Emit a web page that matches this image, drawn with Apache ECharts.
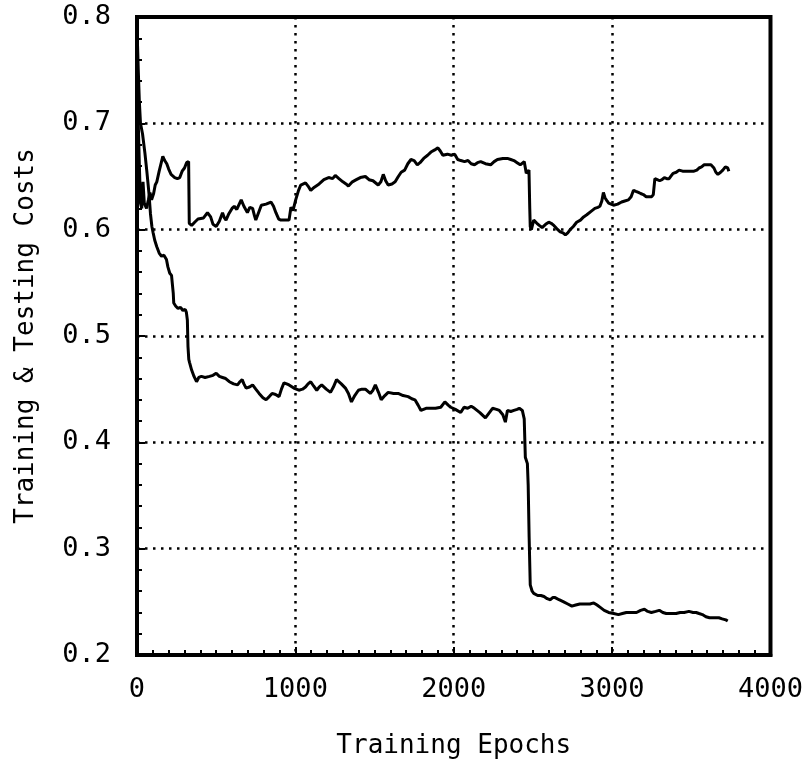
<!DOCTYPE html>
<html>
<head>
<meta charset="utf-8">
<script src="https://cdn.jsdelivr.net/npm/echarts@6/dist/echarts.min.js"></script>
<style>html,body{margin:0;padding:0;background:#fff}#chart{width:806px;height:766px}</style>
</head>
<body>
<div id="chart"></div>
<script>
// Testing cost (upper curve)
var testEpochs = [0,8,15,22,30,38,46,60,72,82,92,105,115,125,140,163,175,188,200,215,238,255,270,285,300,313,326,330,345,364,385,420,445,465,480,500,520,540,552,562,580,600,614,630,658,675,697,712,730,742,750,765,785,815,846,862,877,895,909,930,960,972,985,1002,1020,1034,1064,1080,1097,1120,1150,1180,1210,1235,1252,1275,1300,1320,1335,1360,1385,1410,1442,1465,1490,1523,1540,1555,1570,1586,1610,1630,1650,1668,1690,1710,1730,1750,1770,1787,1810,1835,1856,1880,1900,1915,1931,1960,1985,2006,2025,2045,2068,2090,2110,2131,2150,2170,2200,2233,2255,2276,2310,2339,2360,2380,2400,2420,2445,2458,2475,2480,2483,2490,2505,2525,2540,2558,2580,2600,2615,2632,2650,2672,2690,2705,2720,2735,2755,2776,2800,2820,2840,2865,2891,2910,2923,2935,2945,2955,2968,2978,3009,3035,3060,3080,3103,3120,3135,3150,3166,3180,3197,3215,3229,3250,3260,3270,3285,3300,3315,3330,3345,3360,3375,3385,3405,3423,3445,3467,3490,3517,3535,3549,3565,3580,3600,3624,3643,3655,3668,3685,3699,3715,3730,3737];
var testCost = [0.76,0.70,0.66,0.625,0.62,0.645,0.625,0.62,0.628,0.635,0.628,0.634,0.642,0.645,0.655,0.669,0.665,0.662,0.657,0.652,0.649,0.648,0.649,0.655,0.658,0.663,0.664,0.606,0.604,0.607,0.610,0.611,0.616,0.612,0.605,0.603,0.608,0.616,0.611,0.609,0.615,0.620,0.622,0.619,0.628,0.622,0.616,0.621,0.620,0.613,0.609,0.615,0.623,0.624,0.626,0.622,0.616,0.610,0.609,0.609,0.609,0.621,0.618,0.628,0.637,0.642,0.644,0.641,0.637,0.640,0.643,0.647,0.649,0.648,0.651,0.648,0.645,0.643,0.641,0.645,0.647,0.649,0.650,0.647,0.646,0.642,0.645,0.652,0.646,0.642,0.643,0.645,0.650,0.654,0.656,0.662,0.666,0.665,0.661,0.663,0.667,0.670,0.673,0.675,0.677,0.674,0.670,0.671,0.670,0.671,0.666,0.665,0.664,0.665,0.662,0.661,0.663,0.664,0.662,0.661,0.664,0.666,0.667,0.667,0.666,0.665,0.663,0.661,0.664,0.653,0.656,0.620,0.603,0.600,0.609,0.606,0.604,0.602,0.605,0.607,0.606,0.604,0.601,0.598,0.597,0.595,0.597,0.600,0.603,0.607,0.609,0.612,0.614,0.617,0.620,0.621,0.622,0.627,0.635,0.630,0.627,0.625,0.623,0.624,0.626,0.627,0.628,0.631,0.637,0.636,0.635,0.634,0.633,0.631,0.631,0.631,0.633,0.648,0.647,0.646,0.647,0.649,0.648,0.648,0.651,0.653,0.654,0.656,0.655,0.655,0.655,0.655,0.656,0.658,0.659,0.661,0.661,0.661,0.658,0.654,0.652,0.654,0.656,0.659,0.658,0.655];

// Training cost (lower curve)
var trainEpochs = [0,8,15,22,35,50,62,75,85,94,102,112,125,140,155,170,186,195,207,218,226,229,232,245,259,275,290,305,312,318,322,327,332,345,360,376,390,407,430,458,480,500,520,540,560,583,610,635,650,664,675,689,710,730,750,771,795,815,835,853,875,897,912,928,945,960,990,1022,1045,1064,1080,1097,1115,1135,1150,1166,1195,1222,1240,1260,1290,1316,1335,1354,1375,1398,1420,1442,1473,1490,1505,1525,1542,1565,1586,1620,1649,1680,1712,1735,1755,1775,1793,1825,1856,1885,1918,1944,1965,1981,2010,2044,2065,2088,2110,2131,2165,2200,2225,2245,2270,2288,2310,2326,2339,2360,2380,2400,2414,2433,2445,2452,2465,2470,2476,2483,2495,2505,2530,2550,2570,2590,2610,2625,2640,2665,2694,2720,2746,2770,2796,2830,2860,2884,2905,2923,2950,2978,3010,3040,3065,3090,3120,3154,3180,3204,3225,3248,3275,3298,3320,3342,3375,3404,3430,3455,3485,3511,3530,3549,3570,3592,3615,3636,3655,3674,3695,3718,3730];
var trainCost = [0.79,0.75,0.72,0.70,0.69,0.672,0.655,0.635,0.615,0.603,0.597,0.59,0.584,0.578,0.575,0.576,0.572,0.565,0.559,0.557,0.556,0.540,0.531,0.528,0.526,0.527,0.524,0.525,0.522,0.515,0.490,0.478,0.475,0.468,0.462,0.457,0.461,0.462,0.461,0.462,0.463,0.465,0.462,0.461,0.460,0.457,0.455,0.454,0.457,0.459,0.455,0.451,0.452,0.454,0.450,0.446,0.442,0.440,0.443,0.446,0.445,0.443,0.450,0.456,0.455,0.454,0.451,0.449,0.450,0.452,0.455,0.457,0.453,0.449,0.452,0.454,0.450,0.447,0.452,0.459,0.455,0.451,0.446,0.438,0.444,0.449,0.450,0.450,0.446,0.449,0.454,0.447,0.440,0.444,0.447,0.446,0.446,0.444,0.443,0.441,0.440,0.435,0.430,0.432,0.432,0.432,0.433,0.438,0.435,0.433,0.431,0.428,0.433,0.432,0.434,0.432,0.428,0.423,0.428,0.432,0.431,0.430,0.426,0.419,0.430,0.429,0.430,0.431,0.432,0.430,0.422,0.386,0.380,0.360,0.311,0.266,0.260,0.258,0.256,0.256,0.255,0.253,0.252,0.254,0.254,0.252,0.250,0.248,0.246,0.247,0.248,0.248,0.248,0.249,0.247,0.245,0.242,0.240,0.239,0.238,0.239,0.240,0.240,0.240,0.242,0.243,0.241,0.240,0.241,0.242,0.240,0.239,0.239,0.239,0.240,0.240,0.241,0.240,0.240,0.239,0.238,0.236,0.235,0.235,0.235,0.235,0.234,0.233,0.232];

var xTicks = [0, 1000, 2000, 3000, 4000];
var yTicks = [0.2, 0.3, 0.4, 0.5, 0.6, 0.7, 0.8];
var xTitle = 'Training Epochs';
var yTitle = 'Training & Testing Costs';

function pairs(xs, ys) { return xs.map(function (x, i) { return [x, ys[i]]; }); }

var FONT = "'DejaVu Sans Mono', 'Liberation Mono', monospace";
var chart = echarts.init(document.getElementById('chart'), null, { renderer: 'canvas' });
chart.setOption({
  backgroundColor: '#ffffff',
  animation: false,
  grid: { left: 137, right: 31, top: 17, bottom: 111, show: true, borderColor: '#000', borderWidth: 4, backgroundColor: 'transparent' },
  xAxis: {
    type: 'value', min: xTicks[0], max: xTicks[xTicks.length - 1], interval: 1000,
    name: xTitle, nameLocation: 'middle', nameGap: 78,
    nameTextStyle: { color: '#000', fontFamily: FONT, fontSize: 26 },
    axisLine: { show: true, onZero: false, lineStyle: { color: '#000', width: 4 } },
    axisTick: { show: true, inside: true, length: 8, lineStyle: { color: '#000', width: 2 } },
    minorTick: { show: true, splitNumber: 10, length: 5, lineStyle: { color: '#000', width: 2 } },
    axisLabel: { color: '#000', fontFamily: FONT, fontSize: 27, margin: 21, formatter: function (v) { return String(v); } },
    splitLine: { show: true, lineStyle: { color: '#000', width: 2.5, type: [2.5, 5.5] } }
  },
  yAxis: {
    type: 'value', min: yTicks[0], max: yTicks[yTicks.length - 1], interval: 0.1,
    name: yTitle, nameLocation: 'middle', nameGap: 98, nameRotate: 90,
    nameTextStyle: { color: '#000', fontFamily: FONT, fontSize: 26 },
    axisLine: { show: true, onZero: false, lineStyle: { color: '#000', width: 4 } },
    axisTick: { show: true, inside: true, length: 8, lineStyle: { color: '#000', width: 2 } },
    minorTick: { show: true, splitNumber: 5, length: 5, lineStyle: { color: '#000', width: 2 } },
    axisLabel: { color: '#000', fontFamily: FONT, fontSize: 27, margin: 26, formatter: function (v) { return v.toFixed(1); } },
    splitLine: { show: true, lineStyle: { color: '#000', width: 2.5, type: [2.5, 5.5] } }
  },
  series: [
    { name: 'Testing', type: 'line', data: pairs(testEpochs, testCost), showSymbol: false, symbol: 'none', clip: true,
      lineStyle: { color: '#000', width: 3 } },
    { name: 'Training', type: 'line', data: pairs(trainEpochs, trainCost), showSymbol: false, symbol: 'none', clip: true,
      lineStyle: { color: '#000', width: 3 } }
  ]
});
</script>
</body>
</html>
